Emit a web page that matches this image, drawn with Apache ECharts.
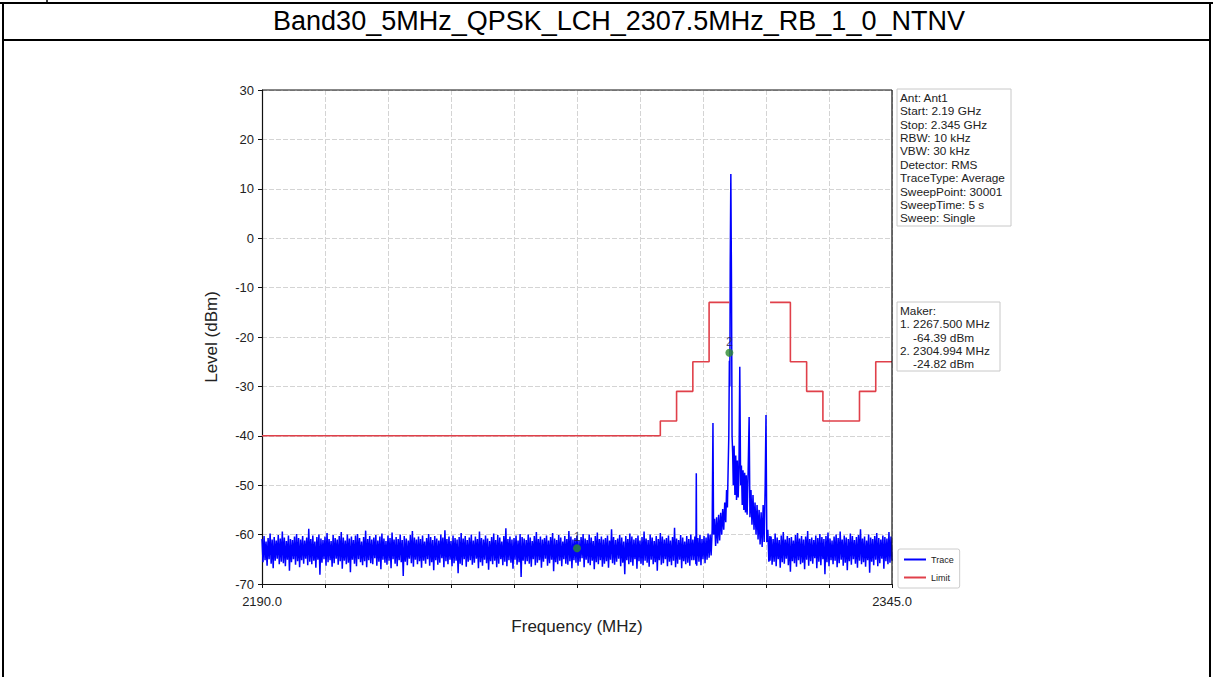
<!DOCTYPE html>
<html>
<head>
<meta charset="utf-8">
<script src="https://cdn.jsdelivr.net/npm/echarts@6/dist/echarts.min.js"></script>
<style>
html,body{margin:0;padding:0;background:#fff;}
#c{width:1213px;height:677px;}
</style>
</head>
<body>
<div id="c"></div>
<script>
// ---------- data ----------
const chartTitle = 'Band30_5MHz_QPSK_LCH_2307.5MHz_RB_1_0_NTNV';
const freqStart = 2190;
const freqStop = 2345;
const xTickStep = 15.5;
const xTickLabels = ['2190.0', '2345.0'];
const yMin = -70, yMax = 30, yStep = 10;

// sweep grid step of the hand-read noise sections (MHz)
const noiseStep = 0.25;
// levels read from 2190.0 MHz to 2296.0 MHz
const traceNoiseLeft = [
-60.9,-65.6,-60.3,-65.2,-61.4,-66.3,-60.7,-65.0,-59.8,-65.9,-61.0,-66.8,-60.5,-65.3,-61.2,-64.9,-60.1,-66.0,-60.8,-65.5,
-59.4,-65.8,-60.6,-66.4,-61.3,-65.1,-60.2,-67.3,-60.9,-65.6,-61.1,-65.0,-60.4,-66.1,-59.9,-65.4,-60.7,-66.6,-61.0,-65.2,
-60.3,-65.9,-61.2,-64.9,-60.6,-66.2,-58.8,-65.5,-60.9,-66.0,-60.2,-65.3,-61.4,-66.7,-60.5,-65.1,-60.0,-68.1,-60.8,-65.7,
-61.1,-65.0,-60.4,-66.3,-59.7,-65.6,-60.9,-65.2,-61.3,-66.5,-60.1,-65.8,-60.7,-64.9,-61.0,-66.1,-60.3,-65.4,-59.5,-66.9,
-60.6,-65.3,-61.2,-66.0,-60.0,-65.7,-60.8,-67.6,-60.4,-65.1,-61.1,-65.9,-60.2,-66.4,-59.9,-65.0,-60.7,-65.6,-61.4,-66.2,
-60.5,-65.4,-59.2,-66.6,-60.9,-65.2,-60.3,-65.8,-61.0,-66.0,-60.6,-64.8,-60.1,-66.3,-61.2,-65.5,-60.4,-67.0,-59.8,-65.1,
-60.8,-65.7,-61.3,-66.1,-60.2,-65.3,-60.7,-66.8,-59.6,-65.0,-61.0,-65.9,-60.5,-66.4,-60.9,-65.2,-60.0,-65.6,-61.1,-68.4,
-60.3,-65.5,-60.8,-66.2,-61.2,-64.9,-60.1,-65.8,-59.3,-66.5,-60.6,-65.1,-61.0,-66.0,-60.4,-65.4,-60.9,-66.7,-60.2,-65.3,
-61.4,-65.9,-60.7,-65.0,-59.9,-66.3,-60.5,-65.6,-61.1,-67.2,-60.3,-65.2,-60.8,-66.1,-61.2,-65.7,-60.0,-64.8,-60.6,-66.6,
-59.1,-65.4,-60.9,-66.0,-60.4,-65.1,-61.3,-66.4,-60.2,-65.8,-60.7,-65.3,-61.0,-67.8,-60.5,-65.9,-59.7,-66.2,-60.8,-65.0,
-60.3,-66.5,-61.1,-65.5,-60.6,-65.2,-60.0,-66.1,-61.2,-65.7,-60.4,-64.9,-60.9,-66.8,-59.4,-65.6,-60.7,-66.3,-61.0,-65.1,
-60.2,-65.8,-60.8,-67.1,-61.3,-65.4,-60.5,-66.0,-59.8,-65.3,-61.1,-66.6,-60.1,-65.9,-60.6,-65.0,-61.4,-66.2,-60.3,-65.5,
-58.7,-66.4,-60.9,-65.2,-60.4,-65.7,-61.0,-66.9,-60.7,-65.1,-60.2,-66.1,-61.2,-65.6,-59.9,-68.6,-60.5,-65.3,-60.8,-66.0,
-61.1,-65.4,-60.0,-65.9,-60.6,-66.5,-61.3,-65.0,-60.3,-66.2,-59.5,-65.7,-60.9,-65.2,-60.4,-66.7,-61.0,-65.5,-60.7,-64.9,
-60.2,-66.3,-61.2,-65.8,-60.5,-65.1,-59.7,-67.4,-60.8,-65.6,-61.1,-66.0,-60.1,-65.3,-60.6,-66.4,-61.4,-65.0,-60.3,-65.9,
-60.9,-66.1,-59.3,-65.4,-60.4,-66.8,-61.0,-65.2,-60.7,-65.7,-60.2,-66.3,-61.2,-65.5,-60.5,-64.8,-59.9,-66.6,-60.8,-65.1,
-61.1,-65.8,-60.0,-66.2,-60.6,-65.3,-61.3,-67.0,-60.3,-65.6,-59.6,-66.0,-60.9,-65.2,-60.4,-66.5,-61.0,-65.9,-60.7,-65.4,
-60.2,-66.7,-61.2,-65.1,-58.9,-65.8,-60.5,-66.1,-61.1,-65.5,-60.8,-64.9,-60.1,-66.4,-60.6,-65.7,-61.4,-68.0,-60.3,-65.2,
-60.9,-66.0,-59.8,-65.6,-60.4,-66.3,-61.0,-65.0,-60.7,-66.9,-60.2,-65.4,-61.2,-65.9,-60.5,-66.2,-59.4,-65.3,-60.8,-65.7,
-61.1,-66.5,-60.0,-65.1,-60.6,-66.0,-61.3,-65.6,-60.3,-67.3,-60.9,-65.2,-59.7,-66.1,-60.4,-65.8,-61.0,-65.0,-60.7,-66.4,
-60.2,-65.5,-61.2,-66.2,-60.5,-65.3,-58.6,-66.6,-60.8,-65.9,-61.1,-65.1,-60.1,-66.8,-60.6,-65.4,-61.4,-66.0,-60.3,-65.7,
-60.9,-66.3,-60.0,-65.2,-61.0
];
// signal region, [MHz, dBm]
const traceSignalFreq = [
2296.25,2296.5,2296.75,2296.85,2296.95,2297.25,2297.5,2297.75,2298.0,2298.25,2298.5,2298.75,2299.0,2299.25,2299.5,2299.75,
2300.0,2300.25,2300.5,2300.75,2300.95,2301.1,2301.35,2301.6,2301.85,2302.1,2302.35,2302.6,2302.85,2303.1,2303.35,2303.6,
2303.85,2304.1,2304.3,2304.5,2304.7,2304.85,2304.99,2305.1,2305.2,2305.35,2305.5,2305.65,2305.8,2305.95,2306.15,2306.35,
2306.55,2306.75,2306.95,2307.15,2307.35,2307.55,2307.75,2307.95,2308.15,2308.35,2308.55,2308.75,2308.95,2309.15,2309.35,2309.6,
2309.85,2310.05,2310.3,2310.55,2310.8,2311.05,2311.3,2311.55,2311.8,2312.05,2312.3,2312.55,2312.8,2313.05,2313.3,2313.55,
2313.8,2314.0,2314.2,2314.45,2314.7,2314.95
];
const traceSignalLevel = [
-65.2,-60.4,-66.0,-47.6,-66.3,-60.7,-65.5,-60.1,-66.2,-60.9,-65.0,-60.3,-65.8,-60.6,-65.1,-59.8,
-64.7,-60.0,-64.2,-59.2,-37.4,-60.0,-56.8,-62.3,-56.5,-61.8,-56.0,-61.2,-55.6,-60.0,-54.8,-59.0,
-53.5,-57.5,-51.0,-54.5,-46.0,-40.0,-24.8,-30.0,-5.0,13.0,-8.0,-40.0,-43.5,-50.0,-42.0,-52.0,
-44.0,-53.0,-45.0,-52.5,-46.5,-26.0,-50.0,-46.0,-54.0,-47.0,-55.0,-47.5,-55.5,-48.0,-56.0,-47.5,
-36.2,-56.5,-51.0,-58.0,-52.0,-59.0,-53.5,-60.0,-54.0,-61.0,-55.0,-62.0,-55.5,-62.5,-54.0,-61.5,
-50.0,-35.8,-61.5,-59.0,-65.5,-60.3
];
// levels read from 2315.0 MHz to 2345.0 MHz
const traceNoiseRightStart = 2315;
const traceNoiseRight = [
-65.3,-60.4,-66.1,-60.9,-65.5,-59.8,-66.4,-60.6,-65.0,-61.1,-66.7,-60.2,-65.6,-59.5,-65.9,-61.0,-64.9,-60.3,-66.2,-60.7,
-67.5,-60.5,-65.4,-61.2,-65.8,-60.1,-66.5,-59.7,-65.2,-60.8,-66.0,-60.3,-65.7,-61.0,-67.0,-60.4,-65.1,-59.3,-66.3,-60.9,
-65.4,-60.6,-65.9,-61.1,-64.8,-60.2,-66.8,-60.7,-65.5,-59.9,-66.2,-60.5,-65.0,-60.9,-68.0,-60.3,-65.6,-59.6,-66.4,-60.8,
-65.2,-61.2,-66.0,-60.4,-65.3,-60.0,-66.6,-60.7,-65.8,-59.4,-65.1,-61.0,-66.3,-60.2,-65.7,-60.6,-67.2,-60.9,-65.4,-59.8,
-66.1,-60.3,-65.0,-61.1,-65.9,-60.5,-66.7,-60.1,-65.3,-58.9,-66.0,-60.8,-65.6,-60.4,-66.5,-61.2,-65.2,-60.0,-67.7,-60.6,
-65.5,-60.9,-66.2,-60.3,-65.1,-59.7,-66.4,-60.7,-65.8,-61.0,-64.9,-60.2,-66.9,-60.5,-65.4,-60.8,-66.0,-59.5,-65.7,-60.4,
-65.3
];

// limit line (null = no limit inside the band)
const limitFreq  = [2190,2288,2288,2292,2292,2296,2296,2300,2300,2305,2310,2315,2320,2320,2324,2324,2328,2328,2337,2337,2341,2341,2345];
const limitLevel = [-40,-40,-37,-37,-31,-31,-25,-25,-13,-13,null,-13,-13,-25,-25,-31,-31,-37,-37,-31,-31,-25,-25];

const markerLabels = ['1', '2'];
const markerFreq = [2267.5, 2304.994];
const markerLevel = [-64.39, -24.82];

const infoLines = ['Ant: Ant1','Start: 2.19 GHz','Stop: 2.345 GHz','RBW: 10 kHz','VBW: 30 kHz','Detector: RMS','TraceType: Average','SweepPoint: 30001','SweepTime: 5 s','Sweep: Single'];
const makerLines = ['Maker:','1. 2267.500 MHz','    -64.39 dBm','2. 2304.994 MHz','    -24.82 dBm'];

// ---------- build ----------
const traceData = [];
traceNoiseLeft.forEach((v, i) => traceData.push([freqStart + i * noiseStep, v]));
traceSignalFreq.forEach((f, i) => traceData.push([f, traceSignalLevel[i]]));
traceNoiseRight.forEach((v, i) => traceData.push([traceNoiseRightStart + i * noiseStep, v]));
const limitData = limitFreq.map((f, i) => [f, limitLevel[i] === null ? '-' : limitLevel[i]]);
const markerData = markerFreq.map((f, i) => ({value: [f, markerLevel[i]], label: {formatter: markerLabels[i]}}));

const FONT = '"Liberation Sans", Arial, sans-serif';
const chart = echarts.init(document.getElementById('c'), null, {renderer: 'svg'});
chart.setOption({
  animation: false,
  backgroundColor: '#ffffff',
  grid: {left: 262, right: 321, top: 90, bottom: 93, show: false},
  xAxis: {
    type: 'value', min: freqStart, max: freqStop, interval: xTickStep,
    name: 'Frequency (MHz)', nameLocation: 'middle', nameGap: 34,
    nameTextStyle: {fontFamily: FONT, fontSize: 17, color: '#222'},
    axisLine: {show: true, onZero: false, lineStyle: {color: '#111', width: 1.2}},
    axisTick: {show: true, length: 4, lineStyle: {color: '#111'}},
    axisLabel: {
      fontFamily: FONT, fontSize: 13, color: '#222', margin: 11, showMinLabel: true, showMaxLabel: true,
      formatter: v => (Math.abs(v - freqStart) < 1e-6 ? xTickLabels[0] : (Math.abs(v - freqStop) < 1e-6 ? xTickLabels[1] : ''))
    },
    splitLine: {show: true, lineStyle: {color: '#d4d4d4', width: 1, type: [5, 2]}}
  },
  yAxis: {
    type: 'value', min: yMin, max: yMax, interval: yStep,
    name: 'Level (dBm)', nameLocation: 'middle', nameGap: 42,
    nameTextStyle: {fontFamily: FONT, fontSize: 17, color: '#222'},
    axisLine: {show: true, onZero: false, lineStyle: {color: '#111', width: 1.2}},
    axisTick: {show: true, length: 4, lineStyle: {color: '#111'}},
    axisLabel: {fontFamily: FONT, fontSize: 13, color: '#222', margin: 8},
    splitLine: {show: true, lineStyle: {color: '#d4d4d4', width: 1, type: [5, 2]}}
  },
  legend: {
    orient: 'vertical', left: 898, top: 549,
    data: [{name: 'Trace', icon: 'rect'}, {name: 'Limit', icon: 'rect'}],
    itemWidth: 22, itemHeight: 2, itemGap: 9,
    padding: [6, 6, 6, 6],
    backgroundColor: '#fff', borderColor: '#cccccc', borderWidth: 1, borderRadius: 2,
    textStyle: {fontFamily: FONT, fontSize: 9, color: '#222'}
  },
  series: [
    {
      name: 'Trace', type: 'line', data: traceData, showSymbol: false, symbol: 'none', sampling: undefined,
      lineStyle: {color: '#0000ff', width: 1.5}, itemStyle: {color: '#0000ff'}, z: 2, silent: true
    },
    {
      name: 'Limit', type: 'line', data: limitData, showSymbol: false, symbol: 'none', connectNulls: false,
      lineStyle: {color: '#e0404a', width: 1.6}, itemStyle: {color: '#e0404a'}, z: 3, silent: true
    },
    {
      name: 'Markers', type: 'scatter', data: markerData, symbol: 'circle', symbolSize: 8,
      symbolOffset: [0, -8],
      itemStyle: {color: '#2e8b2e'}, z: 5,
      label: {show: true, position: 'top', distance: 1, fontFamily: FONT, fontSize: 12, color: '#1c1c4c'}
    }
  ],
  graphic: [
    // page frame / title cell
    {type: 'line', shape: {x1: 0, y1: 3, x2: 1213, y2: 3}, style: {stroke: '#000', lineWidth: 2}},
    {type: 'line', shape: {x1: 47, y1: 0, x2: 47, y2: 3}, style: {stroke: '#000', lineWidth: 1.5}},
    {type: 'line', shape: {x1: 3, y1: 3, x2: 3, y2: 677}, style: {stroke: '#000', lineWidth: 2}},
    {type: 'line', shape: {x1: 1210, y1: 3, x2: 1210, y2: 677}, style: {stroke: '#000', lineWidth: 2}},
    {type: 'line', shape: {x1: 3, y1: 40, x2: 1210, y2: 40}, style: {stroke: '#000', lineWidth: 2}},
    {type: 'text', x: 619, y: 21, style: {text: chartTitle, fill: '#000', font: '27px ' + FONT, textAlign: 'center', textVerticalAlign: 'middle'}},
    // plot box top and right spines
    {type: 'line', shape: {x1: 262, y1: 90, x2: 892, y2: 90}, style: {stroke: '#111', lineWidth: 1.2}, z: 10},
    {type: 'line', shape: {x1: 892, y1: 90, x2: 892, y2: 584}, style: {stroke: '#111', lineWidth: 1.2}, z: 10},
    // info box
    {type: 'rect', shape: {x: 897, y: 89, width: 114, height: 137}, style: {fill: '#fff', stroke: '#c8c8c8', lineWidth: 1}},
    {type: 'text', x: 900, y: 91, style: {text: infoLines.join('\n'), fill: '#222', font: '11.8px ' + FONT, lineHeight: 13.4}},
    // marker box
    {type: 'rect', shape: {x: 897, y: 302, width: 103, height: 69}, style: {fill: '#fff', stroke: '#c8c8c8', lineWidth: 1}},
    {type: 'text', x: 900, y: 304, style: {text: makerLines.join('\n'), fill: '#222', font: '11.8px ' + FONT, lineHeight: 13.4}}
  ]
});
</script>
</body>
</html>
